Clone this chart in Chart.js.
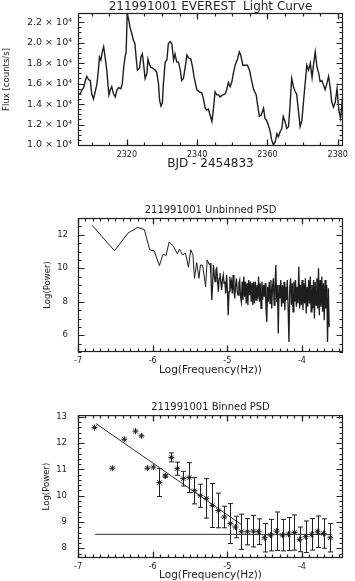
<!DOCTYPE html>
<html>
<head>
<meta charset="utf-8">
<script src="https://cdn.jsdelivr.net/npm/chart.js@4.4.1/dist/chart.umd.min.js"></script>
<style>
  html, body { margin: 0; padding: 0; background: #fff; }
  body { width: 355px; height: 581px; position: relative; overflow: hidden; }
  canvas { position: absolute; left: 0; }
</style>
</head>
<body>
<canvas id="lc" width="355" height="175" style="top:0px"></canvas>
<canvas id="psd" width="355" height="175" style="top:202px"></canvas>
<canvas id="bin" width="355" height="182" style="top:399px"></canvas>
<script>
// ---- light curve (BJD - 2454833, counts/s) ----
var lcTime = [2306.1, 2306.7, 2307.2, 2307.7, 2308.2, 2308.6, 2309.1, 2309.6, 2310.0, 2310.5,
  2311.0, 2311.5, 2311.9, 2312.2, 2312.6, 2313.0, 2313.4, 2313.8, 2314.3, 2314.6,
  2314.9, 2315.3, 2315.7, 2316.2, 2316.7, 2317.2, 2317.6, 2318.3, 2318.7, 2319.1,
  2319.5, 2319.8, 2320.1, 2320.5, 2320.9, 2321.4, 2321.9, 2322.3, 2322.7, 2323.0,
  2323.6, 2324.0, 2324.4, 2324.7, 2325.2, 2325.7, 2326.0, 2326.4, 2326.8, 2327.4,
  2328.1, 2328.5, 2329.0, 2329.3, 2329.7, 2330.1, 2330.4, 2330.9, 2331.4, 2331.8,
  2332.3, 2332.8, 2333.3, 2333.7, 2334.2, 2334.7, 2335.2, 2335.6, 2336.1, 2336.6,
  2337.1, 2337.6, 2338.2, 2338.7, 2339.1, 2339.9, 2340.6, 2341.3, 2341.8, 2342.3,
  2342.7, 2343.2, 2343.7, 2344.2, 2344.6, 2345.1, 2345.6, 2346.1, 2346.5, 2347.3,
  2348.0, 2348.4, 2348.9, 2349.4, 2349.9, 2350.3, 2350.8, 2351.5, 2352.0, 2352.4,
  2353.0, 2353.6, 2354.3, 2354.9, 2355.5, 2356.0, 2356.8, 2357.3, 2357.7, 2358.2,
  2358.9, 2359.3, 2359.8, 2360.3, 2360.8, 2361.2, 2361.7, 2362.2, 2362.7, 2363.1,
  2363.6, 2364.1, 2364.5, 2365.0, 2365.5, 2366.0, 2366.4, 2366.9, 2367.4, 2367.9,
  2368.3, 2368.8, 2369.3, 2369.8, 2370.3, 2370.8, 2371.2, 2371.7, 2372.2, 2372.7,
  2373.1, 2373.6, 2374.1, 2374.6, 2375.0, 2375.5, 2376.0, 2376.4, 2376.9, 2377.4,
  2377.9, 2378.3, 2378.8, 2379.3, 2379.8, 2380.3, 2380.8, 2381.2, 2381.5];
var lcFlux = [14900, 15000, 15350, 15600, 16300, 16700, 16400, 16300, 15000, 14500,
  15200, 16000, 17300, 18600, 18300, 19100, 19600, 18600, 17300, 16000,
  14900, 15400, 15700, 15000, 14700, 15400, 15600, 15500, 16000, 17600,
  18600, 19100, 22800, 22300, 21500, 20900, 20200, 19900, 18300, 17300,
  17500, 18600, 18900, 18100, 16500, 17000, 18400, 17900, 17600, 17500,
  17300, 17100, 16000, 14400, 13800, 14100, 16000, 18100, 18300, 19900,
  20100, 19900, 18300, 18900, 18100, 18100, 17300, 16300, 16500, 17600,
  18800, 18500, 18400, 17600, 16700, 15400, 15200, 15100, 14500, 13600,
  13400, 13500, 12900, 12300, 13400, 15200, 14900, 14900, 14700, 14900,
  15000, 15400, 16100, 15700, 16200, 17000, 17800, 18400, 19100, 18800,
  17800, 17800, 17800, 17300, 16300, 15500, 14900, 13700, 12800, 12900,
  13600, 12600, 12400, 11900, 11300, 10500, 10000, 10300, 11100, 10800,
  11300, 11600, 12800, 12300, 11600, 11800, 13700, 16500, 15700, 15200,
  15000, 13400, 11800, 12400, 14400, 16300, 17800, 17300, 18000, 16600,
  17800, 19100, 17600, 17000, 16200, 16300, 15800, 15400, 16000, 16700,
  15500, 14200, 13700, 14200, 15500, 13400, 12600, 14100, 15000];
var lcTicksX = [2320, 2340, 2360, 2380];
var lcTicksY = [10000, 12000, 14000, 16000, 18000, 20000, 22000];

// ---- unbinned PSD: low-frequency part read point by point ----
var psdLoFreq = [-6.81, -6.51, -6.33, -6.20, -6.11, -6.04, -5.98, -5.91, -5.86, -5.82,
  -5.78, -5.75, -5.72, -5.67, -5.64, -5.60, -5.56, -5.52, -5.49, -5.46,
  -5.44, -5.41, -5.38, -5.36, -5.33, -5.29, -5.27, -5.24];
var psdLoPow = [12.56, 11.04, 12.1, 12.44, 12.3, 11.1, 11.04, 10.16, 10.84, 10.76,
  11.56, 11.45, 11.3, 10.86, 11.14, 10.8, 10.9, 10.06, 11.1, 10.8,
  9.4, 10.34, 9.4, 10.2, 10.16, 8.9, 10.5, 10.2];
// dense high-frequency part, sampled on an even log-frequency grid
var psdHiStart = -5.23, psdHiStep = 0.011;
var psdHiPow = [10.3, 9.6, 8.1, 9.0, 10.2, 9.6, 9.2, 9.9, 10.0, 9.3,
  8.6, 9.4, 9.7, 9.2, 8.7, 9.3, 9.6, 9.1, 9.2, 8.5,
  9.6, 8.8, 7.2, 8.6, 9.5, 8.9, 9.2, 8.5, 9.6, 8.7,
  8.2, 9.0, 9.4, 8.6, 8.4, 9.1, 9.3, 8.3, 8.0, 9.2,
  8.1, 9.5, 8.3, 9.2, 7.9, 9.1, 7.8, 9.3, 8.4, 9.2,
  8.0, 9.1, 7.8, 9.2, 7.9, 9.2, 8.1, 9.0, 8.2, 9.5,
  8.0, 9.1, 7.6, 9.2, 8.1, 9.0, 8.3, 9.1, 7.7, 6.8,
  8.9, 8.0, 9.2, 7.9, 9.3, 7.6, 8.9, 9.4, 7.8, 8.9,
  10.2, 8.0, 9.0, 6.1, 9.0, 8.2, 9.3, 7.7, 9.0, 7.9,
  9.2, 7.5, 8.9, 8.1, 9.3, 7.6, 5.6, 8.8, 9.4, 7.8,
  9.1, 7.4, 9.2, 8.0, 9.3, 7.7, 8.9, 7.9, 10.1, 7.6,
  9.0, 7.8, 9.3, 7.5, 9.1, 7.9, 9.4, 7.3, 8.9, 7.7,
  9.3, 7.9, 9.5, 7.4, 9.0, 7.6, 9.3, 7.0, 9.2, 7.8,
  9.4, 7.6, 10.0, 7.2, 9.3, 7.7, 9.5, 7.4, 9.1, 6.9,
  9.3, 7.6, 9.0, 5.6, 8.8, 6.5];
var psdTicksX = [-7, -6, -5, -4];
var psdTicksY = [6, 8, 10, 12];

// ---- binned PSD ----
var binLogF = [-6.78, -6.54, -6.38, -6.23, -6.15, -6.07, -5.99, -5.91, -5.83, -5.75,
  -5.67, -5.59, -5.51, -5.44, -5.36, -5.28, -5.20, -5.12, -5.04, -4.96,
  -4.89, -4.81, -4.73, -4.65, -4.58, -4.50, -4.42, -4.34, -4.26, -4.18,
  -4.10, -4.03, -3.95, -3.87, -3.79, -3.71, -3.62];
var binLogP = [12.60, 11.05, 12.15, 12.46, 12.28, 11.05, 11.09, 10.50, 10.75, 11.46,
  11.03, 10.65, 10.69, 10.19, 10.00, 9.90, 9.63, 9.44, 9.19, 8.94,
  8.81, 8.63, 8.63, 8.65, 8.63, 8.40, 8.50, 8.65, 8.50, 8.54,
  8.60, 8.34, 8.44, 8.53, 8.63, 8.56, 8.40];
var binErr = [0, 0, 0, 0, 0, 0, 0, 0.53, 0.05, 0.17,
  0.25, 0.28, 0.57, 0.50, 0.44, 0.75, 0.84, 0.66, 0.41, 0.76,
  0.41, 0.67, 0.50, 0.60, 0.49, 0.54, 0.60, 0.73, 0.60, 0.63,
  0.67, 0.47, 0.60, 0.60, 0.60, 0.56, 0.54];
var fitLogF = [-6.76, -4.81];
var fitLogP = [12.75, 8.90];
var noiseLogF = [-6.77, -3.60];
var noiseLevel = 8.53;
var binTicksY = [8, 9, 10, 11, 12, 13];

var INK = '#1e1e1e';
var SANS = "'DejaVu Sans', sans-serif";
var NARROW = "'Liberation Sans Narrow', 'DejaVu Sans Condensed', 'Liberation Sans', sans-serif";

function pts(xs, ys) {
  return xs.map(function (x, i) { return { x: x, y: ys[i] }; });
}

// IDL style box with inward major and minor ticks on all four sides
function boxTicks(cfg) {
  return {
    id: 'boxTicks',
    afterDraw: function (chart) {
      var ctx = chart.ctx, a = chart.chartArea, sx = chart.scales.x, sy = chart.scales.y;
      ctx.save();
      ctx.strokeStyle = '#222';
      ctx.lineWidth = 1.2;
      ctx.strokeRect(a.left + 0.5, a.top + 0.5, a.right - a.left - 1, a.bottom - a.top - 1);
      var xs = [], ys = [], v;
      for (v = Math.ceil(sx.min / cfg.xMinor) * cfg.xMinor; v <= sx.max; v += cfg.xMinor) xs.push([v, 3.5]);
      for (v = Math.ceil(sy.min / cfg.yMinor) * cfg.yMinor; v <= sy.max; v += cfg.yMinor) ys.push([v, 3.5]);
      cfg.xMajor.forEach(function (t) { xs.push([t, 6.5]); });
      cfg.yMajor.forEach(function (t) { ys.push([t, 6.5]); });
      xs.forEach(function (m) {
        var p = Math.round(sx.getPixelForValue(m[0])) + 0.5;
        ctx.beginPath();
        ctx.moveTo(p, a.bottom); ctx.lineTo(p, a.bottom - m[1]);
        ctx.moveTo(p, a.top); ctx.lineTo(p, a.top + m[1]);
        ctx.stroke();
      });
      ys.forEach(function (m) {
        var p = Math.round(sy.getPixelForValue(m[0])) + 0.5;
        ctx.beginPath();
        ctx.moveTo(a.left, p); ctx.lineTo(a.left + m[1], p);
        ctx.moveTo(a.right, p); ctx.lineTo(a.right - m[1], p);
        ctx.stroke();
      });
      ctx.restore();
    }
  };
}

// vertical error bars with small caps on the binned points
var errorBars = {
  id: 'errorBars',
  afterDatasetsDraw: function (chart) {
    var ctx = chart.ctx, sy = chart.scales.y;
    var meta = chart.getDatasetMeta(0);
    ctx.save();
    ctx.strokeStyle = INK;
    ctx.lineWidth = 1;
    ctx.beginPath();
    meta.data.forEach(function (el, i) {
      var e = binErr[i];
      if (!e) return;
      var x = Math.round(el.x) + 0.5;
      var y1 = sy.getPixelForValue(binLogP[i] + e);
      var y2 = sy.getPixelForValue(binLogP[i] - e);
      ctx.moveTo(x, y1); ctx.lineTo(x, y2);
      ctx.moveTo(x - 2.5, y1); ctx.lineTo(x + 2.5, y1);
      ctx.moveTo(x - 2.5, y2); ctx.lineTo(x + 2.5, y2);
    });
    ctx.stroke();
    ctx.restore();
  }
};

function axisX(min, max, ticks, title, titleSize, height, titlePad) {
  return {
    type: 'linear', position: 'bottom', min: min, max: max,
    afterBuildTicks: function (s) { s.ticks = ticks.map(function (v) { return { value: v }; }); },
    afterFit: function (s) { s.height = height; },
    grid: { display: false, drawTicks: false },
    border: { display: false },
    ticks: { color: INK, font: { family: SANS, size: 8 }, padding: 4, maxRotation: 0, autoSkip: false,
      callback: function (v) { return String(v); } },
    title: { display: true, text: title, color: INK, font: { family: SANS, size: titleSize, lineHeight: 1 },
      padding: { top: 0, bottom: titlePad } }
  };
}

function axisY(min, max, ticks, title, width, tickPad, titlePad, fmt, tickSize) {
  return {
    type: 'linear', min: min, max: max,
    afterBuildTicks: function (s) { s.ticks = ticks.map(function (v) { return { value: v }; }); },
    afterFit: function (s) { s.width = width; },
    grid: { display: false, drawTicks: false },
    border: { display: false },
    ticks: { color: INK, font: { family: SANS, size: tickSize || 8.5 }, padding: tickPad, autoSkip: false,
      callback: fmt || function (v) { return String(v); } },
    title: { display: true, text: title, color: INK, font: { family: NARROW, size: 9.5, lineHeight: 1 },
      padding: { top: titlePad, bottom: 0 } }
  };
}

function titleOpt(text, size, padBottom) {
  return { display: true, text: text, color: INK, fullSize: false,
    font: { family: SANS, size: size, weight: 'normal', lineHeight: 1.2 },
    padding: { top: 0, bottom: padBottom } };
}

Chart.defaults.animation = false;
Chart.defaults.responsive = false;
Chart.defaults.devicePixelRatio = 1;

// light curve
new Chart(document.getElementById('lc'), {
  type: 'line',
  data: { datasets: [{ data: pts(lcTime, lcFlux), borderColor: INK, borderWidth: 1.4,
    pointRadius: 0, tension: 0 }] },
  options: {
    layout: { padding: { top: 0, left: 0, right: 12, bottom: 0 } },
    plugins: {
      legend: { display: false }, tooltip: { enabled: false },
      title: titleOpt('211991001 EVEREST  Light Curve', 12, -1.4)
    },
    scales: {
      x: axisX(2306.1, 2381.5, lcTicksX, 'BJD - 2454833', 12, 29, 4.75),
      y: axisY(9900, 22900, lcTicksY, 'Flux [counts/s]', 78, 6, 2.25,
        function (v) { return (v / 1e4).toFixed(1) + ' \u00d7 10\u2074'; }, 9.5)
    }
  },
  plugins: [boxTicks({ xMajor: lcTicksX, xMinor: 5, yMajor: lcTicksY, yMinor: 500 })]
});

// unbinned PSD
var psdLo = pts(psdLoFreq, psdLoPow);
var psdHi = psdHiPow.map(function (p, i) { return { x: psdHiStart + i * psdHiStep, y: p }; });
new Chart(document.getElementById('psd'), {
  type: 'line',
  data: { datasets: [
    { data: psdLo.concat(psdHi.slice(0, 1)), borderColor: INK, borderWidth: 1, pointRadius: 0, tension: 0 },
    { data: psdHi, borderColor: INK, borderWidth: 1.3, pointRadius: 0, tension: 0 }
  ] },
  options: {
    layout: { padding: { top: 2, left: 40, right: 12, bottom: 0 } },
    plugins: {
      legend: { display: false }, tooltip: { enabled: false },
      title: titleOpt('211991001 Unbinned PSD', 10, 2)
    },
    scales: {
      x: axisX(-7, -3.45, psdTicksX, 'Log(Frequency(Hz))', 10.5, 25, 1.75),
      y: axisY(5, 13, psdTicksY, 'Log(Power)', 38, 10, 3.25)
    }
  },
  plugins: [boxTicks({ xMajor: psdTicksX, xMinor: 0.1, yMajor: psdTicksY, yMinor: 0.5 })]
});

// binned PSD with fits
new Chart(document.getElementById('bin'), {
  type: 'line',
  data: { datasets: [
    { data: pts(binLogF, binLogP), showLine: false, pointStyle: 'star', pointRadius: 3,
      borderColor: INK, borderWidth: 1, backgroundColor: INK },
    { data: pts(fitLogF, fitLogP), borderColor: '#333', borderWidth: 1, pointRadius: 0 },
    { data: pts(noiseLogF, noiseLogF.map(function () { return noiseLevel; })),
      borderColor: '#333', borderWidth: 1, pointRadius: 0 }
  ] },
  options: {
    layout: { padding: { top: 0, left: 39, right: 12, bottom: 0 } },
    plugins: {
      legend: { display: false }, tooltip: { enabled: false },
      title: titleOpt('211991001 Binned PSD', 10, 2)
    },
    scales: {
      x: axisX(-7, -3.45, psdTicksX, 'Log(Frequency(Hz))', 10.5, 23, 0.75),
      y: axisY(7.63, 13.07, binTicksY, 'Log(Power)', 39, 11, 3.25)
    }
  },
  plugins: [boxTicks({ xMajor: psdTicksX, xMinor: 0.1, yMajor: binTicksY, yMinor: 0.2 }), errorBars]
});
</script>
</body>
</html>
